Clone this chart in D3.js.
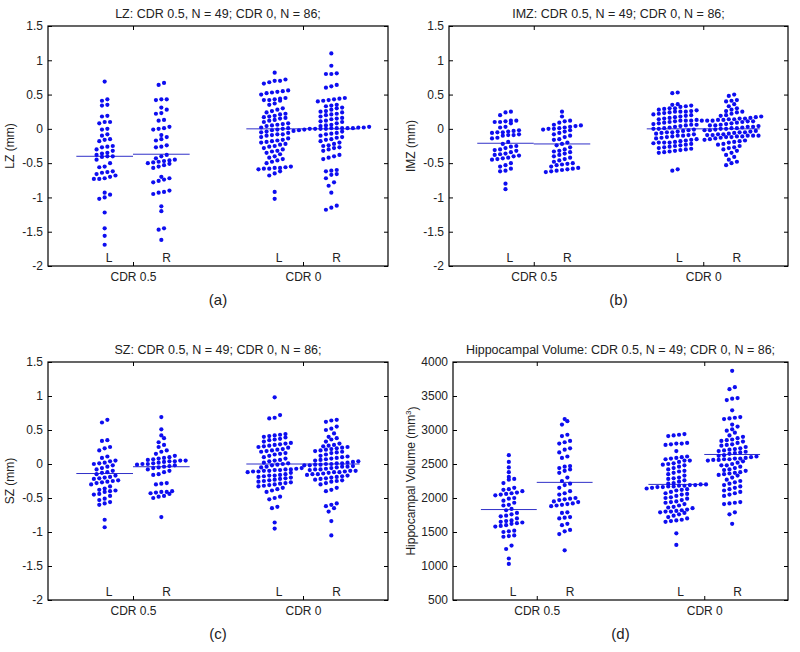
<!DOCTYPE html>
<html>
<head>
<meta charset="utf-8">
<script src="https://cdn.jsdelivr.net/npm/d3@7"></script>
<style>
body { margin: 0; background: #fff; }
text { font-family: "Liberation Sans", Arial, Helvetica, sans-serif; fill: #222; }
</style>
</head>
<body>
<div id="chart"></div>
<script>
// groups and side labels
const groups = ['CDR 0.5', 'CDR 0'];
const sides = ['L', 'R'];
const zTicks = [-2, -1.5, -1, -0.5, 0, 0.5, 1, 1.5];
const volTicks = [500, 1000, 1500, 2000, 2500, 3000, 3500, 4000];

// LZ (a)
const lzL05 = [0.69, 0.43, 0.41, 0.35, 0.34, 0.19, 0.18, 0.10, 0.10, 0.08, 0.00, -0.01, -0.08, -0.10, -0.15, -0.16, -0.18, -0.25, -0.26, -0.27, -0.30, -0.32, -0.35, -0.36, -0.38, -0.40, -0.40, -0.41, -0.45, -0.50, -0.55, -0.56, -0.62, -0.63, -0.64, -0.66, -0.68, -0.70, -0.72, -0.73, -0.73, -0.93, -0.96, -1.00, -1.02, -1.22, -1.45, -1.56, -1.69];
const lzR05 = [0.67, 0.64, 0.43, 0.43, 0.42, 0.31, 0.28, 0.23, 0.22, 0.13, 0.12, 0.03, 0.01, 0.00, -0.01, -0.09, -0.12, -0.15, -0.17, -0.24, -0.26, -0.27, -0.38, -0.40, -0.43, -0.45, -0.46, -0.47, -0.48, -0.49, -0.50, -0.51, -0.53, -0.55, -0.57, -0.70, -0.72, -0.74, -0.76, -0.78, -0.90, -0.92, -0.93, -0.95, -1.13, -1.20, -1.45, -1.47, -1.62];
const lzL0 = [0.82, 0.72, 0.70, 0.70, 0.68, 0.66, 0.56, 0.55, 0.54, 0.53, 0.52, 0.50, 0.45, 0.44, 0.43, 0.42, 0.42, 0.41, 0.37, 0.35, 0.30, 0.28, 0.26, 0.24, 0.22, 0.21, 0.19, 0.18, 0.17, 0.16, 0.15, 0.13, 0.12, 0.10, 0.08, 0.07, 0.06, 0.05, 0.04, 0.02, 0.01, 0.00, -0.01, -0.02, -0.04, -0.05, -0.06, -0.08, -0.08, -0.09, -0.10, -0.12, -0.14, -0.16, -0.17, -0.18, -0.19, -0.20, -0.22, -0.23, -0.25, -0.26, -0.28, -0.30, -0.32, -0.33, -0.35, -0.37, -0.40, -0.42, -0.44, -0.46, -0.48, -0.50, -0.55, -0.56, -0.57, -0.57, -0.58, -0.58, -0.59, -0.62, -0.65, -0.68, -0.92, -1.02];
const lzR0 = [1.10, 0.92, 0.81, 0.80, 0.80, 0.64, 0.62, 0.60, 0.45, 0.44, 0.43, 0.42, 0.41, 0.40, 0.35, 0.34, 0.33, 0.31, 0.30, 0.28, 0.26, 0.25, 0.24, 0.22, 0.21, 0.20, 0.18, 0.16, 0.15, 0.14, 0.12, 0.11, 0.10, 0.08, 0.06, 0.05, 0.04, 0.03, 0.02, 0.02, 0.01, 0.01, 0.01, 0.01, 0.01, 0.00, 0.00, 0.00, 0.00, -0.01, -0.02, -0.03, -0.04, -0.06, -0.07, -0.08, -0.10, -0.12, -0.13, -0.15, -0.16, -0.18, -0.20, -0.22, -0.24, -0.25, -0.27, -0.28, -0.30, -0.32, -0.38, -0.40, -0.42, -0.44, -0.60, -0.61, -0.62, -0.66, -0.67, -0.72, -0.78, -0.83, -0.93, -1.12, -1.15, -1.18];
const lzMeans = [-0.40, -0.37, 0.00, 0.00];

// IMZ (b)
const imzL05 = [0.25, 0.24, 0.20, 0.12, 0.12, 0.11, 0.10, 0.10, 0.08, 0.03, 0.02, -0.02, -0.03, -0.04, -0.05, -0.05, -0.06, -0.08, -0.09, -0.09, -0.10, -0.13, -0.14, -0.19, -0.22, -0.25, -0.26, -0.28, -0.30, -0.31, -0.32, -0.34, -0.36, -0.37, -0.38, -0.39, -0.40, -0.42, -0.43, -0.44, -0.45, -0.50, -0.53, -0.55, -0.58, -0.61, -0.62, -0.80, -0.88];
const imzR05 = [0.25, 0.18, 0.12, 0.11, 0.09, 0.06, 0.05, 0.04, 0.03, 0.02, 0.01, 0.00, 0.00, -0.01, -0.02, -0.04, -0.06, -0.08, -0.10, -0.12, -0.15, -0.16, -0.20, -0.22, -0.24, -0.27, -0.30, -0.32, -0.33, -0.34, -0.36, -0.38, -0.40, -0.42, -0.44, -0.46, -0.48, -0.50, -0.51, -0.52, -0.53, -0.55, -0.57, -0.58, -0.59, -0.60, -0.61, -0.62, -0.63];
const imzL0 = [0.53, 0.52, 0.36, 0.35, 0.34, 0.33, 0.32, 0.30, 0.30, 0.29, 0.28, 0.27, 0.26, 0.25, 0.25, 0.25, 0.24, 0.23, 0.22, 0.21, 0.20, 0.19, 0.18, 0.17, 0.16, 0.15, 0.14, 0.13, 0.12, 0.12, 0.12, 0.11, 0.10, 0.09, 0.08, 0.07, 0.06, 0.06, 0.05, 0.04, 0.03, 0.02, 0.01, 0.00, 0.00, -0.01, -0.02, -0.03, -0.04, -0.05, -0.05, -0.06, -0.07, -0.08, -0.09, -0.10, -0.10, -0.11, -0.12, -0.13, -0.14, -0.15, -0.16, -0.17, -0.18, -0.19, -0.20, -0.20, -0.20, -0.21, -0.22, -0.23, -0.24, -0.25, -0.26, -0.27, -0.28, -0.29, -0.30, -0.31, -0.32, -0.33, -0.34, -0.35, -0.59, -0.61];
const imzR0 = [0.50, 0.48, 0.42, 0.41, 0.40, 0.36, 0.33, 0.30, 0.28, 0.26, 0.25, 0.24, 0.22, 0.20, 0.19, 0.18, 0.17, 0.16, 0.15, 0.15, 0.14, 0.14, 0.13, 0.13, 0.12, 0.12, 0.12, 0.11, 0.11, 0.10, 0.09, 0.08, 0.07, 0.06, 0.05, 0.05, 0.04, 0.03, 0.03, 0.02, 0.01, 0.01, 0.00, 0.00, -0.01, -0.02, -0.02, -0.03, -0.04, -0.05, -0.05, -0.06, -0.07, -0.08, -0.08, -0.09, -0.09, -0.10, -0.10, -0.10, -0.11, -0.11, -0.12, -0.12, -0.13, -0.14, -0.15, -0.16, -0.17, -0.18, -0.19, -0.20, -0.22, -0.23, -0.25, -0.27, -0.28, -0.30, -0.32, -0.35, -0.38, -0.41, -0.45, -0.48, -0.50, -0.53];
const imzMeans = [-0.21, -0.22, 0.00, 0.00];

// SZ (c)
const szL05 = [0.65, 0.61, 0.35, 0.34, 0.25, 0.23, 0.20, 0.11, 0.09, 0.05, 0.04, 0.02, 0.01, 0.00, -0.02, -0.04, -0.06, -0.08, -0.10, -0.12, -0.13, -0.15, -0.17, -0.19, -0.20, -0.21, -0.22, -0.24, -0.25, -0.26, -0.27, -0.28, -0.30, -0.33, -0.36, -0.38, -0.39, -0.40, -0.41, -0.44, -0.45, -0.47, -0.51, -0.53, -0.56, -0.58, -0.60, -0.82, -0.93];
const szR05 = [0.69, 0.51, 0.42, 0.38, 0.32, 0.28, 0.25, 0.20, 0.18, 0.15, 0.12, 0.10, 0.09, 0.08, 0.07, 0.06, 0.05, 0.05, 0.04, 0.04, 0.03, 0.02, 0.01, 0.00, 0.00, -0.01, -0.02, -0.03, -0.04, -0.05, -0.06, -0.08, -0.10, -0.12, -0.15, -0.16, -0.28, -0.29, -0.30, -0.40, -0.41, -0.41, -0.42, -0.43, -0.44, -0.47, -0.48, -0.50, -0.78];
const szL0 = [0.98, 0.72, 0.68, 0.67, 0.44, 0.43, 0.42, 0.41, 0.40, 0.39, 0.37, 0.35, 0.33, 0.31, 0.30, 0.29, 0.28, 0.27, 0.26, 0.25, 0.24, 0.22, 0.20, 0.19, 0.18, 0.16, 0.15, 0.14, 0.12, 0.10, 0.08, 0.06, 0.05, 0.04, 0.02, 0.01, 0.00, -0.01, -0.02, -0.04, -0.05, -0.06, -0.07, -0.08, -0.08, -0.09, -0.09, -0.10, -0.10, -0.11, -0.11, -0.12, -0.13, -0.15, -0.16, -0.17, -0.17, -0.18, -0.19, -0.20, -0.21, -0.22, -0.23, -0.24, -0.25, -0.26, -0.27, -0.28, -0.29, -0.30, -0.31, -0.32, -0.33, -0.35, -0.37, -0.39, -0.41, -0.48, -0.50, -0.52, -0.63, -0.65, -0.86, -0.95, 0.36, 0.21];
const szR0 = [0.65, 0.64, 0.62, 0.55, 0.52, 0.50, 0.45, 0.40, 0.38, 0.36, 0.33, 0.30, 0.28, 0.27, 0.26, 0.25, 0.24, 0.23, 0.22, 0.21, 0.20, 0.19, 0.18, 0.17, 0.16, 0.14, 0.12, 0.11, 0.10, 0.09, 0.08, 0.07, 0.06, 0.05, 0.04, 0.03, 0.02, 0.01, 0.01, 0.00, 0.00, -0.01, -0.01, -0.02, -0.02, -0.03, -0.04, -0.04, -0.05, -0.06, -0.07, -0.08, -0.08, -0.09, -0.10, -0.10, -0.11, -0.12, -0.12, -0.13, -0.14, -0.15, -0.15, -0.16, -0.17, -0.18, -0.19, -0.20, -0.21, -0.22, -0.23, -0.24, -0.25, -0.26, -0.28, -0.30, -0.35, -0.38, -0.40, -0.58, -0.60, -0.62, -0.65, -0.70, -0.84, -1.05];
const szMeans = [-0.14, -0.04, 0.00, 0.00];

// Hippocampal volume (d)
const volL05 = [2630, 2530, 2450, 2380, 2310, 2280, 2270, 2220, 2150, 2130, 2120, 2100, 2080, 2070, 2060, 2050, 2040, 2000, 1990, 1960, 1930, 1900, 1890, 1840, 1820, 1780, 1760, 1740, 1730, 1700, 1670, 1660, 1650, 1640, 1630, 1620, 1600, 1590, 1580, 1520, 1510, 1500, 1450, 1440, 1430, 1300, 1250, 1110, 1030];
const volR05 = [3160, 3130, 3080, 2930, 2910, 2840, 2820, 2800, 2730, 2710, 2670, 2610, 2590, 2470, 2460, 2440, 2420, 2400, 2370, 2300, 2250, 2210, 2190, 2150, 2100, 2070, 2050, 2000, 1990, 1980, 1970, 1950, 1940, 1920, 1910, 1900, 1890, 1880, 1790, 1780, 1720, 1710, 1700, 1620, 1600, 1530, 1510, 1470, 1230];
const volL0 = [2940, 2930, 2920, 2910, 2810, 2800, 2800, 2790, 2780, 2690, 2610, 2600, 2590, 2580, 2570, 2550, 2550, 2530, 2510, 2500, 2490, 2480, 2460, 2440, 2420, 2400, 2390, 2370, 2350, 2330, 2300, 2290, 2280, 2260, 2240, 2220, 2210, 2200, 2200, 2190, 2190, 2180, 2180, 2170, 2170, 2160, 2160, 2150, 2140, 2130, 2120, 2110, 2090, 2070, 2060, 2050, 2030, 2010, 2000, 1990, 1970, 1950, 1940, 1930, 1910, 1890, 1870, 1860, 1850, 1830, 1820, 1810, 1800, 1800, 1790, 1780, 1760, 1740, 1720, 1700, 1680, 1670, 1660, 1650, 1480, 1310];
const volR0 = [3870, 3630, 3600, 3470, 3460, 3440, 3290, 3190, 3180, 3170, 3160, 3080, 3050, 3010, 2990, 2960, 2920, 2900, 2880, 2860, 2850, 2840, 2830, 2810, 2790, 2780, 2770, 2750, 2730, 2720, 2710, 2700, 2690, 2680, 2670, 2660, 2650, 2630, 2620, 2610, 2600, 2590, 2580, 2580, 2570, 2570, 2560, 2560, 2550, 2540, 2520, 2500, 2480, 2480, 2460, 2440, 2420, 2410, 2400, 2380, 2370, 2360, 2350, 2340, 2330, 2300, 2270, 2250, 2230, 2210, 2190, 2170, 2150, 2130, 2110, 2090, 2070, 2050, 2030, 1940, 1930, 1920, 1910, 1790, 1760, 1620];
const volMeans = [1830, 2230, 2200, 2640];

// panel table built from the arrays above
const panels = [
    { title: 'LZ: CDR 0.5, N = 49; CDR 0, N = 86;', ylab: 'LZ (mm)', tag: '(a)',
      series: [lzL05, lzR05, lzL0, lzR0], means: lzMeans, ticks: zTicks, domain: [-2, 1.5],
      box: { left: 48, right: 388, top: 26, bottom: 266 }, labOff: 34 },
    { title: 'IMZ: CDR 0.5, N = 49; CDR 0, N = 86;', ylab: 'IMZ (mm)', tag: '(b)',
      series: [imzL05, imzR05, imzL0, imzR0], means: imzMeans, ticks: zTicks, domain: [-2, 1.5],
      box: { left: 449, right: 788, top: 26, bottom: 266 }, labOff: 34 },
    { title: 'SZ: CDR 0.5, N = 49; CDR 0, N = 86;', ylab: 'SZ (mm)', tag: '(c)',
      series: [szL05, szR05, szL0, szR0], means: szMeans, ticks: zTicks, domain: [-2, 1.5],
      box: { left: 48, right: 388, top: 362, bottom: 600 }, labOff: 34 },
    { title: 'Hippocampal Volume: CDR 0.5, N = 49; CDR 0, N = 86;', ylab: 'Hippocampal Volume (mm', sup: true, tag: '(d)',
      series: [volL05, volR05, volL0, volR0], means: volMeans, ticks: volTicks, domain: [500, 4000],
      box: { left: 453, right: 788, top: 362, bottom: 600 }, labOff: 38 }
];

// column positions on the x scale
const colPos = [1, 2, 4, 5];
const groupPos = [1.5, 4.5];

const dotColor = '#0d0df0';
const lineColor = '#3030c8';

const svg = d3.select('#chart')
    .append('svg')
    .attr('width', 800)
    .attr('height', 652);

// simple binned swarm: points close in y go side by side
function swarm(values, yScale, cx, dx, binH) {
    const pts = values.map(v => ({ v: v, py: yScale(v) }));
    const sorted = pts.slice().sort((a, b) => b.py - a.py);
    const bins = [];
    let cur = [], start = null;
    sorted.forEach(p => {
        if (start === null || start - p.py >= binH) {
            if (cur.length) bins.push(cur);
            cur = [p];
            start = p.py;
        } else {
            cur.push(p);
        }
    });
    if (cur.length) bins.push(cur);
    bins.forEach(b => b.forEach((p, i) => { p.px = cx + (i - (b.length - 1) / 2) * dx; }));
    return pts;
}

panels.forEach(p => {
    const b = p.box;
    const g = svg.append('g');

    const x = d3.scaleLinear().domain([0, 6]).range([b.left, b.right]);
    const y = d3.scaleLinear().domain(p.domain).range([b.bottom, b.top]);

    // left axis
    const yAxis = d3.axisLeft(y).tickValues(p.ticks).tickFormat(d => String(d))
        .tickSizeInner(-4).tickSizeOuter(0).tickPadding(5);
    g.append('g')
        .attr('transform', `translate(${b.left},0)`)
        .call(yAxis)
        .call(s => s.select('.domain').remove())
        .call(s => s.selectAll('text').style('font-size', '12px').attr('fill', '#222'));

    // right axis (mirror ticks)
    g.append('g')
        .attr('transform', `translate(${b.right},0)`)
        .call(d3.axisRight(y).tickValues(p.ticks).tickSizeInner(-4).tickSizeOuter(0).tickFormat(''))
        .call(s => s.select('.domain').remove());

    // bottom axis
    g.append('g')
        .attr('transform', `translate(0,${b.bottom})`)
        .call(d3.axisBottom(x).tickValues(groupPos).tickSizeInner(-4).tickSizeOuter(0).tickPadding(6)
            .tickFormat((d, i) => groups[i]))
        .call(s => s.select('.domain').remove())
        .call(s => s.selectAll('text').style('font-size', '12px').attr('fill', '#222'));

    // top axis
    g.append('g')
        .attr('transform', `translate(0,${b.top})`)
        .call(d3.axisTop(x).tickValues(groupPos).tickSizeInner(-4).tickSizeOuter(0).tickFormat(''))
        .call(s => s.select('.domain').remove());

    // frame
    g.append('rect')
        .attr('x', b.left).attr('y', b.top)
        .attr('width', b.right - b.left).attr('height', b.bottom - b.top)
        .attr('fill', 'none').attr('stroke', '#000').attr('stroke-width', 1.2);

    // L / R labels inside the box
    g.selectAll('.side')
        .data(colPos)
        .enter().append('text')
        .attr('class', 'side')
        .attr('x', d => x(d) + 1)
        .attr('y', b.bottom - 4)
        .style('font-size', '12px')
        .text((d, i) => sides[i % 2]);

    // mean lines
    g.selectAll('.mean')
        .data(p.means)
        .enter().append('line')
        .attr('class', 'mean')
        .attr('x1', (d, i) => x(colPos[i] - 0.5))
        .attr('x2', (d, i) => x(colPos[i] + 0.5))
        .attr('y1', d => y(d))
        .attr('y2', d => y(d))
        .attr('stroke', lineColor)
        .attr('stroke-width', 1);

    // dots
    p.series.forEach((vals, i) => {
        const pts = swarm(vals, y, x(colPos[i]), 5.4, 4.2);
        g.selectAll(null)
            .data(pts)
            .enter().append('circle')
            .attr('cx', d => d.px)
            .attr('cy', d => d.py)
            .attr('r', 2.1)
            .attr('fill', dotColor);
    });

    // title
    g.append('text')
        .attr('x', (b.left + b.right) / 2)
        .attr('y', b.top - 8)
        .attr('text-anchor', 'middle')
        .style('font-size', '12.5px')
        .text(p.title);

    // y label
    const yl = g.append('text')
        .attr('transform', `translate(${b.left - p.labOff},${(b.top + b.bottom) / 2}) rotate(-90)`)
        .attr('text-anchor', 'middle')
        .style('font-size', '12px')
        .text(p.ylab);
    if (p.sup) {
        yl.append('tspan').attr('dy', '-0.45em').style('font-size', '8px').text('3');
        yl.append('tspan').attr('dy', '0.45em').text(')');
    }

    // panel tag
    g.append('text')
        .attr('x', (b.left + b.right) / 2)
        .attr('y', b.bottom + 39)
        .attr('text-anchor', 'middle')
        .style('font-size', '15px')
        .text(p.tag);
});
</script>
</body>
</html>
